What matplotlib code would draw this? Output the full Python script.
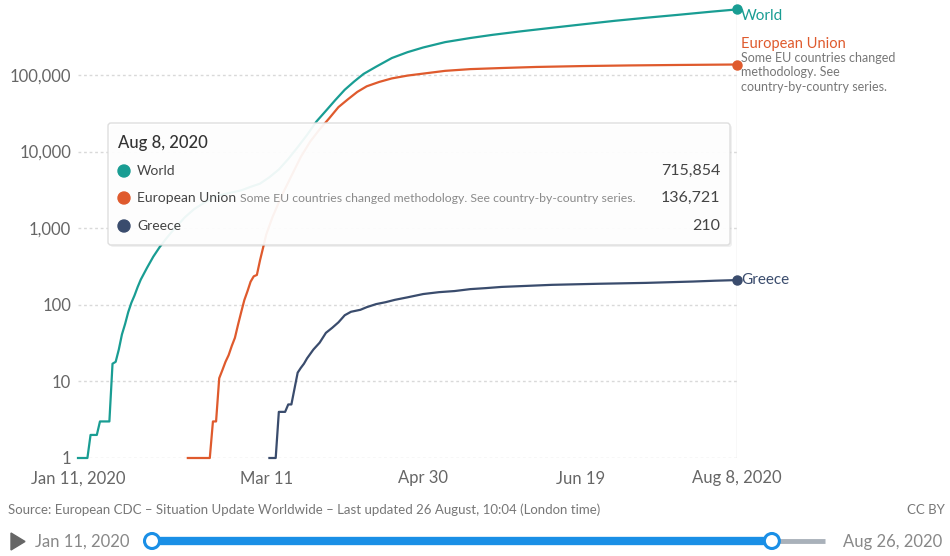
import matplotlib
matplotlib.use("Agg")
import matplotlib.pyplot as plt
import matplotlib.ticker as mticker
from matplotlib.patches import FancyBboxPatch, Polygon, Circle
import pandas as pd

plt.rcParams["font.family"] = ["Lato", "DejaVu Sans"]

# Cumulative confirmed COVID-19 deaths (ECDC)
world_dates = [
    "2020-01-11", "2020-01-14", "2020-01-15", "2020-01-17", "2020-01-18",
    "2020-01-21", "2020-01-22", "2020-01-23", "2020-01-24", "2020-01-25",
    "2020-01-26", "2020-01-27", "2020-01-28", "2020-01-29", "2020-01-30",
    "2020-01-31", "2020-02-02", "2020-02-04", "2020-02-06", "2020-02-08",
    "2020-02-10", "2020-02-12", "2020-02-14", "2020-02-17", "2020-02-20",
    "2020-02-24", "2020-02-28", "2020-03-03", "2020-03-06", "2020-03-09",
    "2020-03-12", "2020-03-15", "2020-03-18", "2020-03-21", "2020-03-24",
    "2020-03-27", "2020-03-30", "2020-04-02", "2020-04-05", "2020-04-08",
    "2020-04-11", "2020-04-15", "2020-04-20", "2020-04-25", "2020-04-30",
    "2020-05-07", "2020-05-15", "2020-05-22", "2020-05-31", "2020-06-10",
    "2020-06-20", "2020-06-30", "2020-07-10", "2020-07-20", "2020-07-31",
    "2020-08-08",
]
world_vals = [
    1, 1, 2, 2, 3,
    3, 17, 18, 26, 41,
    56, 80, 106, 132, 170,
    213, 304, 425, 564, 722,
    908, 1114, 1381, 1770, 2120,
    2620, 2860, 3110, 3460, 3810,
    4620, 5830, 8000, 11400, 16500,
    24700, 34000, 47000, 64000, 82000,
    103000, 128000, 166000, 198000, 228000,
    268000, 303000, 333000, 370000, 412000,
    458000, 508000, 557000, 607000, 670000,
    715854,
]

eu_dates = [
    "2020-02-15", "2020-02-22", "2020-02-23", "2020-02-24", "2020-02-25",
    "2020-02-26", "2020-02-27", "2020-02-28", "2020-02-29", "2020-03-01",
    "2020-03-02", "2020-03-03", "2020-03-04", "2020-03-05", "2020-03-06",
    "2020-03-07", "2020-03-08", "2020-03-09", "2020-03-10", "2020-03-11",
    "2020-03-13", "2020-03-16", "2020-03-19", "2020-03-22", "2020-03-25",
    "2020-03-28", "2020-03-31", "2020-04-03", "2020-04-06", "2020-04-09",
    "2020-04-12", "2020-04-16", "2020-04-20", "2020-04-25", "2020-04-30",
    "2020-05-07", "2020-05-15", "2020-05-25", "2020-06-05", "2020-06-20",
    "2020-07-05", "2020-07-20", "2020-08-08",
]
eu_vals = [
    1, 1, 3, 3, 11,
    14, 18, 22, 29, 37,
    55, 80, 115, 150, 200,
    235, 245, 380, 560, 830,
    1400, 2700, 4800, 8500, 13500,
    19500, 27000, 38000, 48000, 60000,
    71000, 81000, 90000, 98000, 104000,
    113000, 119000, 123000, 127000, 130500,
    133000, 134800, 136721,
]

greece_dates = [
    "2020-03-12", "2020-03-14", "2020-03-15", "2020-03-17", "2020-03-18",
    "2020-03-19", "2020-03-21", "2020-03-22", "2020-03-23", "2020-03-24",
    "2020-03-26", "2020-03-28", "2020-03-30", "2020-04-01", "2020-04-03",
    "2020-04-05", "2020-04-07", "2020-04-10", "2020-04-12", "2020-04-15",
    "2020-04-18", "2020-04-21", "2020-04-25", "2020-04-30", "2020-05-05",
    "2020-05-10", "2020-05-15", "2020-05-20", "2020-05-25", "2020-05-31",
    "2020-06-10", "2020-06-25", "2020-07-10", "2020-07-25", "2020-08-01",
    "2020-08-08",
]
greece_vals = [
    1, 1, 4, 4, 5,
    5, 13, 15, 17, 20,
    26, 32, 43, 50, 59,
    73, 81, 86, 93, 102,
    108, 116, 125, 138, 146,
    151, 160, 165, 171, 175,
    182, 188, 193, 201, 206,
    210,
]

series = [
    ("World", world_dates, world_vals, "#199d93"),
    ("European Union", eu_dates, eu_vals, "#df5a2d"),
    ("Greece", greece_dates, greece_vals, "#3a4c6d"),
]

eu_note = "Some EU countries changed methodology. See country-by-country series."
eu_note_lines = ["Some EU countries changed", "methodology. See", "country-by-country series."]
x_ticks = ["2020-01-11", "2020-03-11", "2020-04-30", "2020-06-19", "2020-08-08"]
x_tick_labels = ["Jan 11, 2020", "Mar 11", "Apr 30", "Jun 19", "Aug 8, 2020"]
y_ticks = [1, 10, 100, 1000, 10000, 100000]
range_start, range_end = "2020-01-11", "2020-08-26"
source = ("Source: European CDC – Situation Update Worldwide – "
          "Last updated 26 August, 10:04 (London time)")

W, H = 950, 556
fig = plt.figure(figsize=(W / 100, H / 100), dpi=100)
ax = fig.add_axes([78 / W, 1 - 458 / H, (737 - 78) / W, 458 / H])

start = pd.Timestamp(x_ticks[0])
end = pd.Timestamp(x_ticks[-1])

for name, dates, vals, color in series:
    d = pd.to_datetime(dates)
    ax.plot(d, vals, color=color, lw=1.6, clip_on=False, zorder=3)
    ax.plot(d[-1], vals[-1], "o", color=color, ms=6.5, clip_on=False, zorder=4)

ax.set_yscale("log")
ax.set_ylim(1, 9.5e5)
ax.set_xlim(start, end)
ax.yaxis.set_major_locator(mticker.FixedLocator(y_ticks))
ax.yaxis.set_minor_locator(mticker.NullLocator())
ax.yaxis.set_major_formatter(mticker.FuncFormatter(lambda v, _: f"{int(v):,}"))
ax.set_xticks(pd.to_datetime(x_ticks))
ax.set_xticklabels(x_tick_labels)
ax.tick_params(axis="both", length=0, labelsize=12, labelcolor="#666666")
ax.tick_params(axis="y", pad=5)
ax.tick_params(axis="x", pad=9)
ax.yaxis.grid(True, color="#d9d9d9", ls=(0, (2, 2)), lw=1)
ax.set_axisbelow(True)
for s in ax.spines.values():
    s.set_visible(False)
ax.axvline(end, color="#dddddd", lw=1, zorder=1)

# end-of-line labels
ax.annotate("World", (end, world_vals[-1]), xytext=(3, -5), textcoords="offset points",
            color=series[0][3], fontsize=11, va="center", ha="left", annotation_clip=False)
ax.annotate("European Union", (end, eu_vals[-1]), xytext=(3, 15), textcoords="offset points",
            color=series[1][3], fontsize=10.5, va="center", ha="left", annotation_clip=False)
for i, line in enumerate(eu_note_lines):
    ax.annotate(line, (end, eu_vals[-1]), xytext=(3, 5 - i * 10.5), textcoords="offset points",
                color="#777777", fontsize=9, va="center", ha="left", annotation_clip=False)
ax.annotate("Greece", (end, greece_vals[-1]), xytext=(3, 0), textcoords="offset points",
            color=series[2][3], fontsize=11, va="center", ha="left", annotation_clip=False)

# overlay in pixel coordinates for tooltip and footer
ov = fig.add_axes([0, 0, 1, 1], zorder=5)
ov.set_xlim(0, W)
ov.set_ylim(H, 0)
ov.axis("off")

shadow = FancyBboxPatch((110, 125), 622, 122, boxstyle="round,pad=0,rounding_size=3",
                        fc="#000000", ec="none", alpha=0.06)
box = FancyBboxPatch((108, 123), 622, 122, boxstyle="round,pad=0,rounding_size=3",
                     fc="white", ec="#dcdcdc", lw=1, alpha=0.93)
ov.add_patch(shadow)
ov.add_patch(box)
ov.text(118, 143, f"{end:%b} {end.day}, {end.year}", fontsize=12, color="#333333",
        va="center", ha="left", fontweight="medium")
row_y = [171, 198, 226]
for (name, dates, vals, color), y in zip(series, row_y):
    ov.add_patch(Circle((124, y), 6, color=color))
    ov.text(137, y, name, fontsize=10, color="#444444", va="center", ha="left")
    ov.text(720, y, f"{vals[-1]:,}", fontsize=11.5, color="#444444", va="center", ha="right")
ov.text(240, row_y[1] + 1, eu_note, fontsize=8.8, color="#8a8a8a", va="center", ha="left")

# footer
ov.text(8, 510, source, fontsize=9.5, color="#777777", va="center", ha="left")
ov.text(945, 510, "CC BY", fontsize=9.5, color="#777777", va="center", ha="right")

ov.add_patch(Polygon([(11, 533), (11, 550), (25, 541.5)], closed=True, color="#666666"))
ov.text(35, 542, f"{start:%b} {start.day}, {start.year}", fontsize=12, color="#888888",
        va="center", ha="left")
r0, r1 = pd.Timestamp(range_start), pd.Timestamp(range_end)
ov.text(843, 542, f"{r1:%b} {r1.day}, {r1.year}", fontsize=12, color="#888888",
        va="center", ha="left")
track_l, track_r = 152, 825
handle_x = track_l + (end - r0) / (r1 - r0) * (track_r - track_l)
ov.plot([track_l, track_r], [541, 541], color="#a9b1ba", lw=3.5, solid_capstyle="butt")
ov.plot([track_l, handle_x], [541, 541], color="#1a8fe6", lw=6, solid_capstyle="butt")
for hx in (track_l, handle_x):
    ov.add_patch(Circle((hx, 541), 7.5, fc="white", ec="#1a8fe6", lw=2.2, zorder=6))

fig.savefig("out.png", dpi=100)
